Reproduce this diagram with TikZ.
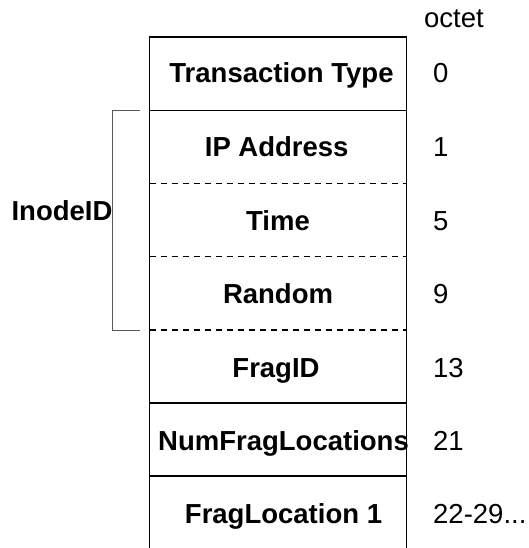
\documentclass[tikz,border=0pt]{standalone}
\usepackage{fontspec}
\setmainfont{Liberation Sans}
\begin{document}
\begin{tikzpicture}[x=1pt,y=-1pt,
  field/.style={font=\fontsize{27.5}{30}\selectfont\bfseries, anchor=base, inner sep=0pt},
  octetnum/.style={font=\fontsize{27.5}{30}\selectfont, anchor=base west, inner sep=0pt},
  solidsep/.style={line width=1.5pt, black},
  dashsep/.style={line width=1.3pt, black, dash pattern=on 6pt off 5pt},
  bracketline/.style={line width=0.9pt, black!65}]
\useasboundingbox (0,0) rectangle (529,548);

% packet column: outer sides run off the bottom edge
\coordinate (tl) at (149.5,37);
\coordinate (tr) at (406.5,37);
\coordinate (bl) at (149.5,548);
\coordinate (br) at (406.5,548);
\draw[solidsep] (bl) -- (tl) -- (tr) -- (br);

% row separators
\draw[solidsep] (149.5,110.5) -- (406.5,110.5);
\draw[dashsep] (149.5,183.5) -- (406.5,183.5);
\draw[dashsep] (149.5,256.5) -- (406.5,256.5);
\draw[dashsep] (149.5,330) -- (406.5,330);
\draw[solidsep] (149.5,403) -- (406.5,403);
\draw[solidsep] (149.5,476) -- (406.5,476);

% field names (placed on their baselines)
\node[field] (tt)  at (281.5,83)  {Transaction Type};
\node[field] (ip)  at (276.7,157) {IP Address};
\node[field] (tm)  at (278,230)   {Time};
\node[field] (rn)  at (278,303)   {Random};
\node[field] (fid) at (276,377)   {FragID};
\node[field] (nfl) at (283.5,450) {NumFragLocations};
\node[field] (fl1) at (283.5,523) {FragLocation 1};

% octet offsets
\node[font=\fontsize{27.5}{30}\selectfont, anchor=base, inner sep=0pt] (oct) at (454,28) {octet};
\node[octetnum] (o0)  at (433,83)  {0};
\node[octetnum] (o1)  at (433,157) {1};
\node[octetnum] (o5)  at (433,230) {5};
\node[octetnum] (o9)  at (433,303) {9};
\node[octetnum] (o13) at (433,377) {13};
\node[octetnum] (o21) at (433,450) {21};
\node[octetnum] (o22) at (433,523) {22-29...};

% InodeID grouping bracket
\coordinate (bt) at (140,110.5);
\coordinate (bb) at (140,330);
\draw[bracketline] (bt) -- (112.7,110.5) -- (112.7,330) -- (bb);
\node[field] (inode) at (62,220) {InodeID};
\end{tikzpicture}
\end{document}
